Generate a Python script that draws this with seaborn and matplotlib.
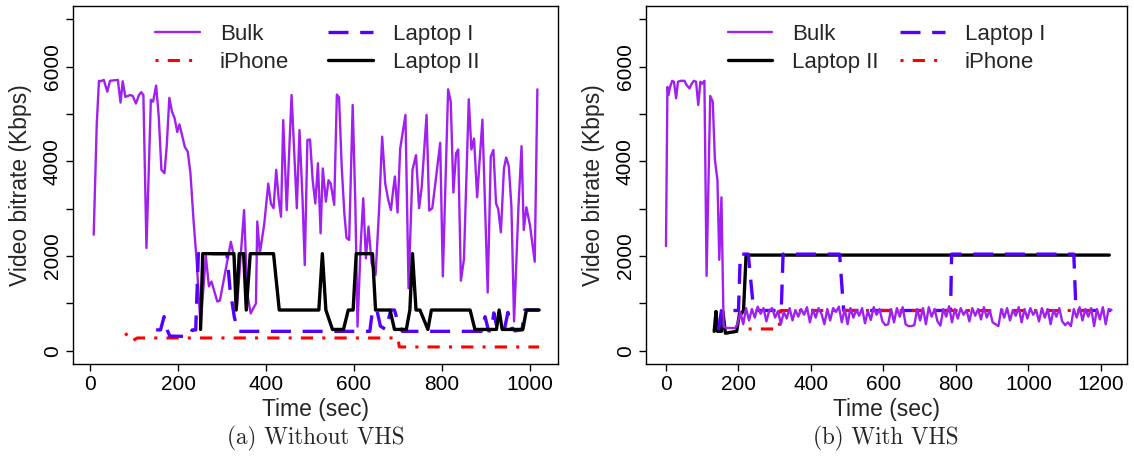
import numpy as np
import seaborn as sns
import matplotlib.pyplot as plt

# ---- (a) Without VHS ----
t_bulk_a = [8, 15, 20, 24, 31, 39, 45, 63, 69, 74, 80, 91, 97, 104, 111, 116, 121, 128, 138, 143,
            150, 156, 162, 169, 174, 180, 186, 192, 198, 203, 209, 215, 222, 228, 235, 242, 251, 263, 270, 276,
            289, 295, 320, 327, 334, 350, 357, 365, 377, 380, 386, 396, 405, 411, 417, 423, 429, 434, 439, 447,
            458, 470, 476, 483, 488, 494, 500, 506, 512, 518, 524, 529, 536, 542, 547, 555, 561, 566, 572, 578,
            583, 589, 597, 603, 608, 615, 621, 627, 633, 640, 649, 657, 664, 671, 678, 684, 689, 693, 699, 705,
            717, 724, 733, 741, 748, 754, 765, 771, 778, 784, 796, 802, 814, 820, 826, 832, 837, 843, 850, 861,
            867, 873, 880, 886, 892, 904, 911, 917, 923, 928, 934, 941, 946, 952, 958, 964, 974, 981, 986, 992,
            1000, 1011, 1017]
bulk_a = [2450, 4800, 5700, 5690, 5720, 5470, 5700, 5720, 5240, 5690, 5360, 5400, 5380, 5220, 5400, 5460, 5400, 2170, 5300, 5260,
          5600, 4940, 3820, 3750, 4310, 5340, 5050, 4910, 4620, 4780, 4550, 4310, 4200, 3750, 2760, 1920, 520, 2000, 1360, 1460,
          1040, 1060, 2300, 1990, 950, 2970, 1220, 790, 1000, 2730, 2060, 2690, 3530, 3110, 3010, 3820, 3180, 2830, 4870, 2970,
          5400, 3010, 4660, 3180, 1810, 4450, 4460, 3600, 3110, 3960, 2480, 3850, 3150, 3600, 3530, 3080, 5410, 5350, 3890, 2900,
          2380, 2340, 5190, 3110, 510, 2200, 3220, 1950, 2620, 1850, 1600, 2970, 4520, 3530, 3180, 2970, 3390, 3680, 2920, 4270,
          4980, 1320, 3820, 4130, 3010, 3460, 4980, 2960, 3010, 3460, 4390, 1570, 5520, 5260, 3340, 4170, 4250, 1480, 1930, 5310,
          4250, 4480, 3240, 4060, 4880, 1230, 4100, 4240, 3110, 2990, 2500, 3850, 4080, 3900, 3040, 620, 3040, 4320, 2550, 3030,
          2660, 1880, 5520]

t_lap2_a = [251, 256, 327, 332, 339, 349, 355, 364, 417, 430, 520, 528, 536, 551, 576, 587, 598, 605, 642, 649,
            682, 692, 719, 727, 733, 741, 750, 768, 776, 864, 875, 924, 930, 937, 984, 992, 1021]
lap2_a = [450, 2050, 2050, 860, 2050, 2050, 860, 2050, 2050, 860, 860, 2050, 860, 450, 450, 860, 860, 2050, 2050, 860,
          860, 450, 450, 860, 2050, 860, 860, 450, 860, 860, 450, 450, 860, 450, 450, 860, 860]

t_lap1_a = [150, 160, 168, 176, 181, 226, 232, 240, 246, 311, 318, 328, 337, 636, 642, 652, 660, 672, 684, 692,
            700, 710, 890, 898, 906, 912, 918, 926, 942, 950, 958, 966, 982, 988, 1021]
lap1_a = [440, 440, 720, 420, 310, 300, 440, 440, 2050, 2050, 1300, 700, 410, 410, 860, 860, 520, 450, 860, 860,
          600, 410, 410, 720, 420, 420, 800, 450, 450, 810, 500, 420, 440, 860, 860]

t_iphone_a = [80, 95, 107, 700, 703, 1021]
iphone_a = [370, 200, 270, 270, 80, 80]

# ---- (b) With VHS ----
t_bulk_b_head = [0, 4, 7, 11, 17, 22, 28, 33, 41, 51, 57, 65, 71, 77, 83, 89, 95, 100, 106, 112,
                 122, 129, 135, 142, 147, 153, 159, 166, 175, 191, 198]
bulk_b_head = [2210, 5570, 5400, 5560, 5700, 5680, 5330, 5680, 5700, 5700, 5610, 5540, 5640, 5700, 5680, 5190, 5680, 5640, 5700, 1580,
               5380, 5260, 4030, 3600, 1920, 3240, 510, 480, 480, 480, 580]
# sampled every 8 s from t = 205
bulk_b_tail = [820, 560, 900, 640, 880, 700, 930, 780, 900, 620, 850, 900, 700, 840, 560, 820, 680, 900, 640, 860,
               720, 880, 760, 920, 600, 870, 700, 900, 780, 560, 880, 640, 900, 820, 930, 600, 880, 560, 900, 700,
               860, 740, 900, 580, 840, 650, 920, 760, 880, 620, 540, 560, 880, 600, 900, 720, 920, 560, 520, 520,
               540, 880, 640, 900, 560, 920, 720, 880, 620, 530, 880, 720, 940, 600, 880, 680, 900, 760, 860, 620,
               900, 740, 880, 660, 920, 700, 860, 600, 560, 520, 880, 700, 900, 640, 860, 740, 920, 600, 880, 680,
               900, 760, 860, 620, 900, 700, 880, 560, 860, 720, 900, 620, 540, 600, 520, 880, 700, 920, 640, 880,
               720, 900, 520, 880, 660, 920, 560, 880, 860]
t_bulk_b = t_bulk_b_head + list(np.arange(205, 205 + 8 * len(bulk_b_tail), 8))
bulk_b = bulk_b_head + bulk_b_tail

t_lap2_b = [133, 138, 142, 153, 157, 164, 195, 203, 209, 214, 221, 1223]
lap2_b = [410, 830, 410, 410, 830, 370, 410, 790, 790, 860, 2020, 2020]

t_lap1_b = [145, 153, 200, 205, 227, 240, 246, 318, 323, 479, 490, 785, 788, 1125, 1131, 1228]
lap1_b = [440, 850, 850, 2040, 2040, 1000, 850, 850, 2040, 2040, 850, 850, 2040, 2040, 850, 850]

t_iphone_b = [228, 312, 316, 1228]
iphone_b = [460, 460, 850, 850]

sns.set_style("ticks")
plt.rcParams['font.family'] = ['Liberation Sans', 'DejaVu Sans']
plt.rcParams['axes.edgecolor'] = 'black'
plt.rcParams['axes.linewidth'] = 1.0
plt.rcParams['xtick.color'] = 'black'
plt.rcParams['ytick.color'] = 'black'

PURPLE = "#A020F0"
BLUE = "#5500FF"
RED = "#FF0000"

styles = {
    "Bulk": dict(color=PURPLE, lw=1.7, linestyle="-"),
    "Laptop I": dict(color=BLUE, lw=2.4, linestyle=(0, (6, 3.5)), dash_capstyle="butt"),
    "iPhone": dict(color=RED, lw=2.2, linestyle=(0, (1, 3, 4, 3)), dash_capstyle="butt"),
    "Laptop II": dict(color="black", lw=2.4, linestyle="-"),
}

fig = plt.figure(figsize=(11.34, 4.61), dpi=100)
ax1 = fig.add_axes([0.0644, 0.2104, 0.4277, 0.7766])
ax2 = fig.add_axes([0.5697, 0.2104, 0.4242, 0.7766])


def draw(ax, name, t, v):
    sns.lineplot(x=t, y=v, ax=ax, estimator=None, sort=False, label=name, **styles[name])


draw(ax1, "Bulk", t_bulk_a, bulk_a)
draw(ax1, "iPhone", t_iphone_a, iphone_a)
draw(ax1, "Laptop I", t_lap1_a, lap1_a)
draw(ax1, "Laptop II", t_lap2_a, lap2_a)

draw(ax2, "Laptop II", t_lap2_b, lap2_b)
draw(ax2, "Laptop I", t_lap1_b, lap1_b)
draw(ax2, "iPhone", t_iphone_b, iphone_b)
draw(ax2, "Bulk", t_bulk_b, bulk_b)

ax1.set_xlim(-39, 1064)
ax2.set_xlim(-55, 1272)
ax1.set_xticks(range(0, 1001, 200))
ax2.set_xticks(range(0, 1201, 200))

legend_orders = [["Bulk", "iPhone", "Laptop I", "Laptop II"],
                 ["Bulk", "Laptop II", "Laptop I", "iPhone"]]
colspace = [1.75, 0.97]

for ax, order, cs in zip([ax1, ax2], legend_orders, colspace):
    ax.set_ylim(-280, 7280)
    ax.set_yticks(range(0, 7001, 1000))
    ax.set_yticklabels([str(v) if v % 2000 == 0 else "" for v in range(0, 7001, 1000)],
                       rotation=90, va="center")
    ax.tick_params(axis="both", direction="out", length=5, width=1, labelsize=15, pad=3)
    for s in ax.spines.values():
        s.set_visible(True)
        s.set_linewidth(1.0)
    ax.set_xlabel("Time (sec)", fontsize=16.5)
    ax.set_ylabel("Video bitrate (Kbps)", fontsize=16.5)
    ax.xaxis.set_label_coords(0.5, -0.126)
    ax.xaxis.label.set_va("center")
    ax.yaxis.set_label_coords(-0.109, 0.5)
    ax.yaxis.label.set_va("center")
    h, l = ax.get_legend_handles_labels()
    hmap = dict(zip(l, h))
    ax.legend([hmap[n] for n in order], order, ncol=2, frameon=False, fontsize=16,
              loc="upper left", bbox_to_anchor=(0.17, 0.95), borderaxespad=0, borderpad=0,
              handlelength=2.0, handletextpad=0.9, columnspacing=cs, labelspacing=0.3)

fig.text(316 / 1134, 1 - 438 / 461, "(a) Without VHS", family="cmr10", fontsize=16.7,
         ha="center", va="center")
fig.text(886 / 1134, 1 - 438 / 461, "(b) With VHS", family="cmr10", fontsize=16.7,
         ha="center", va="center")

fig.savefig("out.png", dpi=100)
